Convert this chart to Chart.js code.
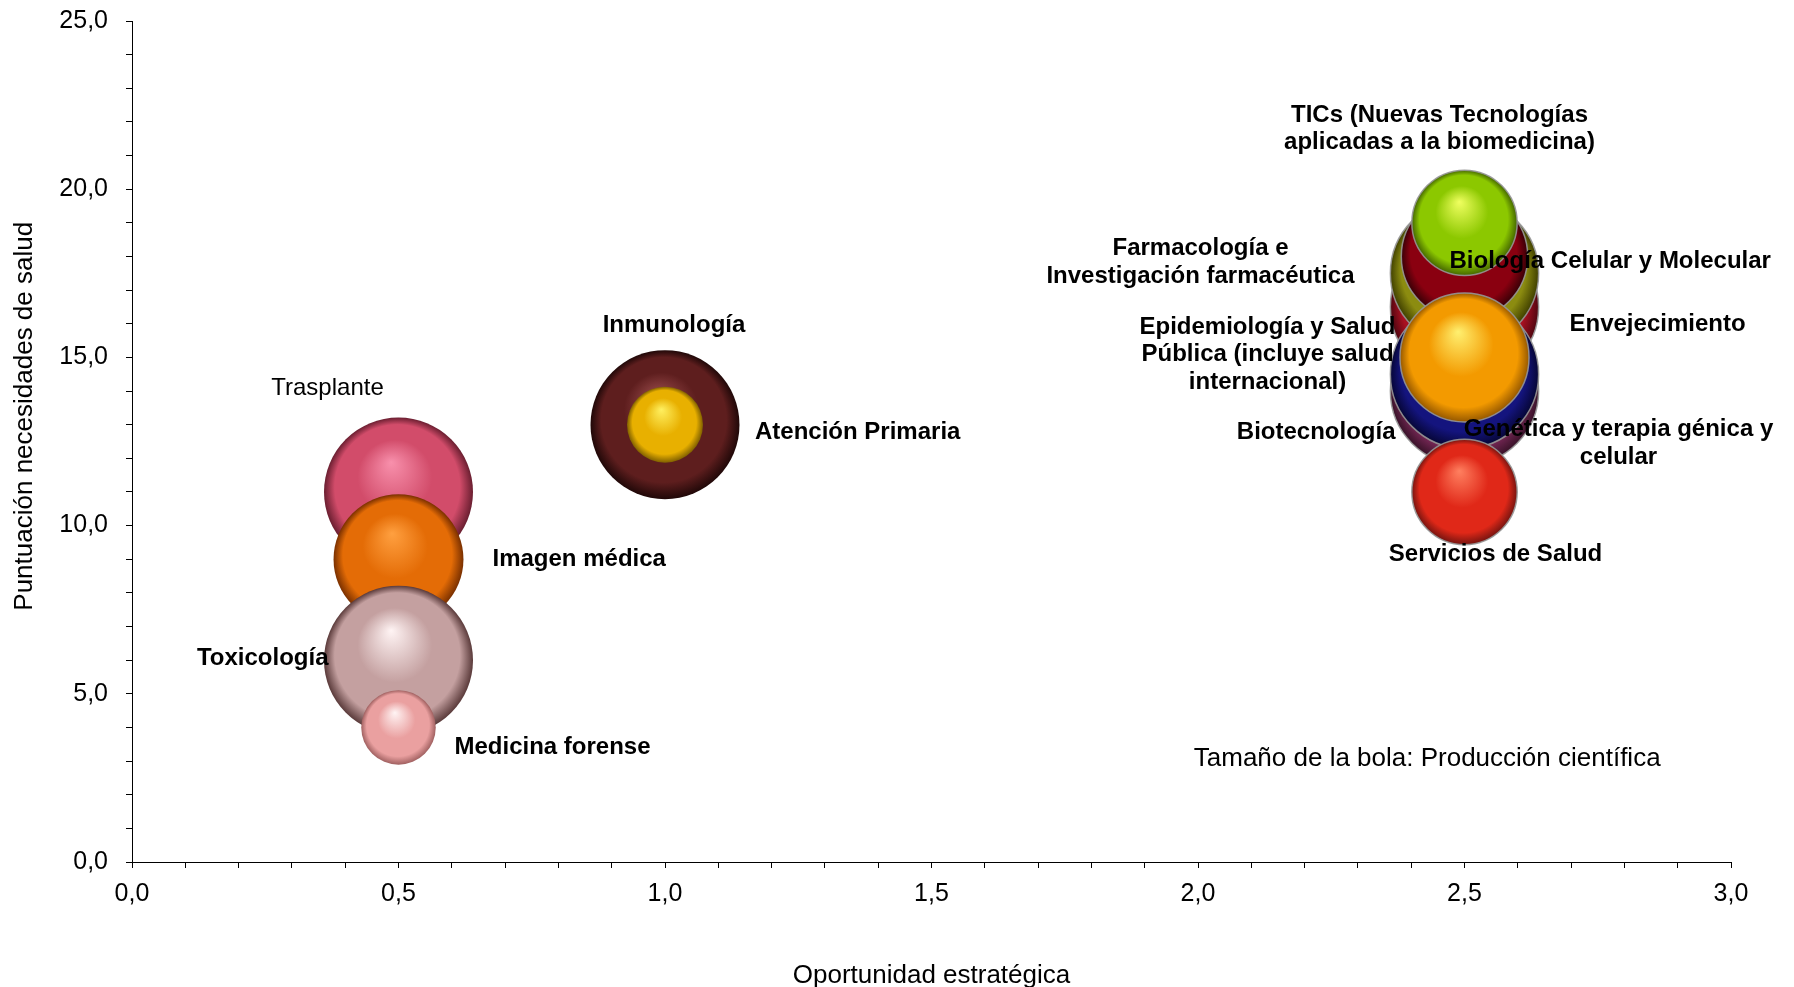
<!DOCTYPE html>
<html>
<head>
<meta charset="utf-8">
<title>Oportunidad estratégica vs necesidades de salud</title>
<script src="https://cdn.jsdelivr.net/npm/chart.js@4.4.0/dist/chart.umd.min.js"></script>
<style>
  html, body { margin: 0; padding: 0; background: #fff; }
  canvas { display: block; }
</style>
</head>
<body>
<canvas id="grafico" width="1794" height="987"></canvas>
<script>
// datos: una bola por área (dibujadas en este orden, la última queda encima)
const categories = [
  "Trasplante",
  "Imagen médica",
  "Toxicología",
  "Medicina forense",
  "Inmunología",
  "Atención Primaria",
  "Envejecimiento",
  "Farmacología e\nInvestigación farmacéutica",
  "Biología Celular y Molecular",
  "Biotecnología",
  "Genética y terapia génica y\ncelular",
  "Epidemiología y Salud\nPública (incluye salud\ninternacional)",
  "TICs (Nuevas Tecnologías\naplicadas a la biomedicina)",
  "Servicios de Salud",
]
const oportunidad = [0.5, 0.5, 0.5, 0.5, 1.0, 1.0, 2.5, 2.5, 2.5, 2.5, 2.5, 2.5, 2.5, 2.5]
const necesidades = [11.0, 9.0, 6.0, 4.0, 13.0, 13.0, 16.5, 17.5, 18.0, 14.0, 14.5, 15.0, 19.0, 11.0]
// tamaño de la bola: producción científica (relativa)
const produccion = [100, 76, 100, 25, 100, 26, 99, 99, 72, 99, 99, 75, 50, 50]

const xTickLabels = ["0,0", "0,5", "1,0", "1,5", "2,0", "2,5", "3,0"]
const yTickLabels = ["0,0", "5,0", "10,0", "15,0", "20,0", "25,0"]

const tituloX = "Oportunidad estratégica"
const tituloY = "Puntuación necesidades de salud"
const nota = "Tamaño de la bola: Producción científica"

// colores [brillo, base, sombra]
const paleta = [
  ["#f890ac", "#d24c6a", "#6a1e30"],
  ["#ffa040", "#e46c06", "#7a3000"],
  ["#fff4f4", "#c4a0a0", "#5a3a3a"],
  ["#fff4f4", "#eaa0a0", "#a06060"],
  ["#9a4c4c", "#5e1e1e", "#200808"],
  ["#fff060", "#e8b000", "#806000"],
  ["#e05060", "#a81020", "#500610"],
  ["#d8d850", "#8c8c10", "#404000"],
  ["#d03040", "#8a0010", "#380006"],
  ["#b06090", "#7a2858", "#381228"],
  ["#5050d0", "#14147e", "#060636"],
  ["#fff070", "#f39a00", "#965800"],
  ["#f0ff60", "#8cc800", "#446600"],
  ["#ff8060", "#e02818", "#761410"],
]

// posición de cada etiqueta respecto al centro de su bola
const etiquetas = [
  { dx: -71, dy: -104, align: "center", bold: false },
  { dx: 94, dy: 0, align: "left" },
  { dx: -70, dy: -2, align: "right" },
  { dx: 56, dy: 20, align: "left" },
  { dx: 9, dy: -99, align: "center" },
  { dx: 90, dy: 8, align: "left" },
  { dx: 105, dy: 17, align: "left" },
  { dx: -264, dy: -11, align: "center" },
  { dx: -15, dy: 5, align: "left" },
  { dx: -69, dy: 41, align: "right" },
  { dx: 154, dy: 69, align: "center" },
  { dx: -197, dy: -3, align: "center" },
  { dx: -25, dy: -94, align: "center" },
  { dx: 31, dy: 62, align: "center" },
]

const FONT = '"Liberation Sans", Arial, sans-serif'
const radio = (v) => 7.45 * Math.sqrt(v)

function esfera(context) {
  const i = context.dataIndex
  const chart = context.chart
  const sx = chart.scales.x, sy = chart.scales.y
  if (!sx || !sy || i === undefined) return paleta[0][1]
  const cx = sx.getPixelForValue(oportunidad[i])
  const cy = sy.getPixelForValue(necesidades[i])
  if (!isFinite(cx) || !isFinite(cy)) return paleta[i][1]
  const r = radio(produccion[i])
  const g = chart.ctx.createRadialGradient(cx - r * 0.1, cy - r * 0.4, 0, cx, cy, r)
  g.addColorStop(0, paleta[i][0])
  g.addColorStop(0.5, paleta[i][1])
  g.addColorStop(0.84, paleta[i][1])
  g.addColorStop(1, paleta[i][2])
  return g
}

const labelPlugin = {
  id: "bubbleLabels",
  afterDatasetsDraw(chart) {
    const { ctx } = chart
    const sx = chart.scales.x, sy = chart.scales.y
    ctx.save()
    ctx.fillStyle = "#000"
    ctx.textBaseline = "middle"
    categories.forEach((name, i) => {
      const e = etiquetas[i]
      const lines = name.split("\n")
      const lh = 27.5
      const px = sx.getPixelForValue(oportunidad[i]) + e.dx
      const py = sy.getPixelForValue(necesidades[i]) + e.dy - ((lines.length - 1) * lh) / 2
      ctx.font = (e.bold === false ? "" : "bold ") + "24px " + FONT
      ctx.textAlign = e.align
      lines.forEach((t, k) => ctx.fillText(t, px, py + k * lh))
    })
    // nota
    ctx.font = "26px " + FONT
    ctx.textAlign = "center"
    ctx.fillText(nota, sx.getPixelForValue(2.43), sy.getPixelForValue(3.06))
    // titulo del eje y (algo por encima del centro del eje, como en el original)
    ctx.translate(25, sy.getPixelForValue(13.25))
    ctx.rotate(-Math.PI / 2)
    ctx.fillText(tituloY, 0, 0)
    ctx.restore()
  },
}

Chart.defaults.font.family = FONT
Chart.defaults.color = "#000"

const ctx = document.getElementById("grafico").getContext("2d")
const myChart = new Chart(ctx, {
  type: "bubble",
  data: {
    datasets: [
      {
        label: "Producción científica",
        data: oportunidad.map((x, i) => ({ x: x, y: necesidades[i], r: radio(produccion[i]) })),
        backgroundColor: esfera,
        borderColor: "rgba(150,150,150,0.9)",
        borderWidth: produccion.map((p, i) => (oportunidad[i] > 2 ? 1.5 : 0)),
      },
    ],
  },
  options: {
    responsive: false,
    devicePixelRatio: 1,
    animation: false,
    events: [],
    layout: { autoPadding: false, padding: { top: 21, right: 63, left: 0, bottom: 0 } },
    plugins: {
      legend: { display: false },
      tooltip: { enabled: false },
    },
    scales: {
      x: {
        type: "linear",
        min: 0,
        max: 3,
        afterFit: (scale) => {
          scale.height = 125
          scale.paddingLeft = 0
          scale.paddingRight = 0
        },
        ticks: {
          stepSize: 0.1,
          autoSkip: false,
          maxRotation: 0,
          padding: 11,
          font: { size: 25 },
          callback: (v, i) => (i % 5 === 0 ? xTickLabels[i / 5] : ""),
        },
        grid: { drawOnChartArea: false, tickLength: 6, color: "#000" },
        border: { color: "#000", width: 1 },
        title: {
          display: true,
          text: tituloX,
          font: { size: 26, lineHeight: 0.85 },
          padding: { top: 0, bottom: 0 },
        },
      },
      y: {
        type: "linear",
        min: 0,
        max: 25,
        afterFit: (scale) => {
          scale.width = 132
          scale.paddingTop = 0
          scale.paddingBottom = 0
        },
        ticks: {
          stepSize: 1,
          autoSkip: false,
          padding: 18,
          font: { size: 25 },
          callback: (v) => (v % 5 === 0 ? yTickLabels[v / 5] : ""),
        },
        grid: { drawOnChartArea: false, tickLength: 6, color: "#000" },
        border: { color: "#000", width: 1 },
      },
    },
  },
  plugins: [labelPlugin],
})
</script>
</body>
</html>
